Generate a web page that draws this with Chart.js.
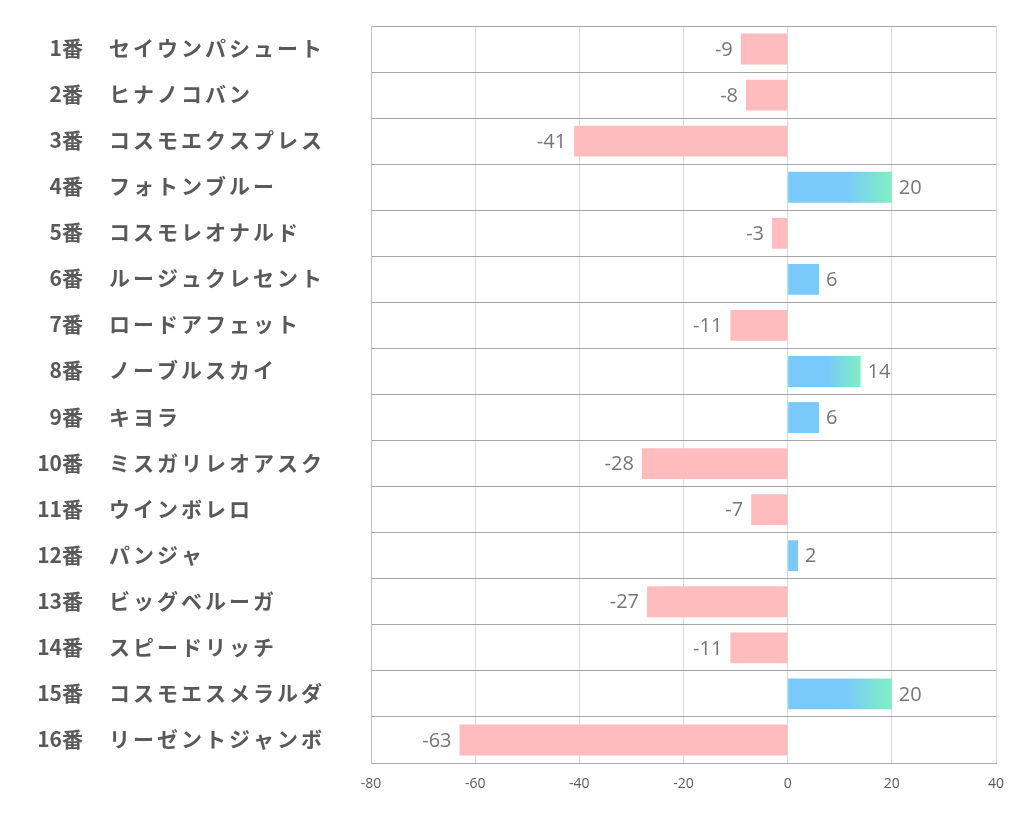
<!DOCTYPE html>
<html>
<head>
<meta charset="utf-8">
<script src="https://cdn.jsdelivr.net/npm/chart.js@4"></script>
<style>
  body { margin: 0; background: #fff; }
  #wrap { width: 1022px; height: 834px; }
</style>
</head>
<body>
<div id="wrap"><canvas id="theChart"></canvas></div>
<script>
const numbers = ['1番','2番','3番','4番','5番','6番','7番','8番','9番','10番','11番','12番','13番','14番','15番','16番'];
const horses = ['セイウンパシュート','ヒナノコバン','コスモエクスプレス','フォトンブルー','コスモレオナルド','ルージュクレセント','ロードアフェット','ノーブルスカイ','キヨラ','ミスガリレオアスク','ウインボレロ','パンジャ','ビッグベルーガ','スピードリッチ','コスモエスメラルダ','リーゼントジャンボ'];
const values = [-9, -8, -41, 20, -3, 6, -11, 14, 6, -28, -7, 2, -27, -11, 20, -63];
const xTicks = [-80, -60, -40, -20, 0, 20, 40];

const pink = '#ffbcbf';
const blue = '#79c9fb';
const green = '#7ef0c0';

function barColor(ctx) {
  const v = ctx.raw;
  if (v < 0) return pink;
  const chart = ctx.chart;
  if (!chart.chartArea || v < 10) return blue;
  const x = chart.scales.x;
  const x0 = x.getPixelForValue(0), x1 = x.getPixelForValue(v);
  const g = chart.ctx.createLinearGradient(x0, 0, x1, 0);
  g.addColorStop(0, blue);
  g.addColorStop(0.55, blue);
  g.addColorStop(1, green);
  return g;
}

// horse labels: number right aligned, name left aligned
const rowLabels = {
  id: 'rowLabels',
  afterDraw(chart) {
    const c = chart.ctx;
    const y = chart.scales.y;
    c.save();
    c.fillStyle = '#595959';
    c.font = 'bold 21px "Noto Sans CJK JP"';
    c.textBaseline = 'middle';
    numbers.forEach((n, i) => {
      const py = y.getPixelForValue(i) - 1;
      c.textAlign = 'right';
      c.letterSpacing = '0px';
      c.fillText(n, 83, py);
      c.textAlign = 'left';
      c.letterSpacing = '3px';
      c.fillText(horses[i], 109, py);
    });
    c.restore();
  }
};

const valueLabels = {
  id: 'valueLabels',
  afterDatasetsDraw(chart) {
    const c = chart.ctx;
    const meta = chart.getDatasetMeta(0);
    c.save();
    c.fillStyle = '#767676';
    c.font = '20px "Open Sans"';
    c.textBaseline = 'middle';
    meta.data.forEach((bar, i) => {
      const v = values[i];
      if (v < 0) {
        c.textAlign = 'right';
        c.fillText(String(v), bar.x - 8, bar.y + 1);
      } else {
        c.textAlign = 'left';
        c.fillText(String(v), bar.x + 7, bar.y + 1);
      }
    });
    c.restore();
  }
};

new Chart(document.getElementById('theChart').getContext('2d'), {
  type: 'bar',
  data: {
    labels: horses,
    datasets: [{
      data: values,
      backgroundColor: barColor,
      borderWidth: 0,
      barPercentage: 0.67,
      categoryPercentage: 1
    }]
  },
  options: {
    indexAxis: 'y',
    responsive: true,
    maintainAspectRatio: false,
    animation: false,
    layout: { padding: { top: 26, right: 26, bottom: 0, left: 0 } },
    plugins: { legend: { display: false }, tooltip: { enabled: false } },
    scales: {
      x: {
        min: -80,
        max: 40,
        afterBuildTicks: s => { s.ticks = xTicks.map(v => ({ value: v })); },
        afterFit: s => { s.height = 71; },
        grid: { color: '#d9d9d9', drawTicks: false },
        border: { color: '#a6a6a6' },
        ticks: { color: '#595959', font: { family: 'Open Sans', size: 14 }, padding: 13 }
      },
      y: {
        afterFit: s => { s.width = 371; },
        grid: { color: '#a6a6a6', drawTicks: false, offset: true },
        border: { color: '#bfbfbf' },
        ticks: { display: false }
      }
    }
  },
  plugins: [rowLabels, valueLabels]
});
</script>
</body>
</html>
